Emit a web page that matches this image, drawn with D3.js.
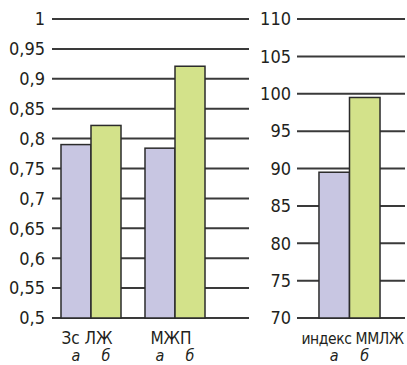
<!DOCTYPE html>
<html><head><meta charset="utf-8">
<script src="https://cdn.jsdelivr.net/npm/d3@7"></script>
<style>
html,body{margin:0;padding:0;background:#fff;}
text{font-family:"Liberation Sans Narrow","DejaVu Sans Condensed","Liberation Sans",sans-serif;fill:#231f20;}
</style></head>
<body><svg id="c" width="407" height="365"></svg>
<script>
const leftCategories = ["Зс ЛЖ", "МЖП"];
const series = ["а", "б"];
const leftA = [0.79, 0.784];
const leftB = [0.822, 0.921];
const leftTicks = [0.5,0.55,0.6,0.65,0.7,0.75,0.8,0.85,0.9,0.95,1];
const rightCategories = ["индекс ММЛЖ"];
const rightA = [89.5];
const rightB = [99.5];
const rightTicks = [70,75,80,85,90,95,100,105,110];
const colors = ["#c8c6e2", "#d3e28a"];

const svg = d3.select("#c");
const fmt = d => String(d).replace(".", ",");

function panel(cats, aVals, bVals, ticks, yDomain, xRange, padIn, padOut, gridX0, gridX1, labelX, catDx, catSize) {
  const y = d3.scaleLinear().domain(yDomain).range([318, 19]);
  const x = d3.scaleBand().domain(cats).range(xRange).paddingInner(padIn).paddingOuter(padOut);
  const xs = d3.scaleBand().domain(series).range([0, x.bandwidth()]);
  const g = svg.append("g");
  g.selectAll("line.grid").data(ticks).join("line")
    .attr("x1", gridX0).attr("x2", gridX1)
    .attr("y1", d => y(d)).attr("y2", d => y(d))
    .attr("stroke", "#3a3a3a").attr("stroke-width", 2);
  g.selectAll("text.tick").data(ticks).join("text")
    .attr("x", labelX).attr("y", d => y(d)).attr("dy", "0.35em")
    .attr("text-anchor", "end").attr("font-size", 18)
    .text(fmt);
  const data = [];
  cats.forEach((c, i) => { data.push({c, s: "а", v: aVals[i]}); data.push({c, s: "б", v: bVals[i]}); });
  g.selectAll("rect").data(data).join("rect")
    .attr("x", d => x(d.c) + xs(d.s))
    .attr("width", xs.bandwidth())
    .attr("y", d => y(d.v))
    .attr("height", d => y(yDomain[0]) - y(d.v))
    .attr("fill", d => colors[series.indexOf(d.s)])
    .attr("stroke", "#2b2b2b").attr("stroke-width", 1.5);
  g.selectAll("text.cat").data(cats).join("text")
    .attr("x", d => x(d) + x.bandwidth() / 2 + catDx).attr("y", 344)
    .attr("text-anchor", "middle").attr("font-size", catSize)
    .attr("letter-spacing", catSize < 17 ? -0.4 : 0)
    .text(d => d);
  g.selectAll("text.ser").data(data).join("text")
    .attr("x", d => x(d.c) + xs(d.s) + xs.bandwidth() / 2)
    .attr("y", 361)
    .attr("text-anchor", "middle").attr("font-size", 16).attr("font-style", "italic")
    .text(d => d.s);
}

panel(leftCategories, leftA, leftB, leftTicks, [0.5, 1], [37, 229], 0.2857, 0.2857, 52, 249, 45, -4, 17);
panel(rightCategories, rightA, rightB, rightTicks, [70, 110], [297, 402], 0, 0.36, 297, 405, 291, 3, 15.5);
</script></body></html>
